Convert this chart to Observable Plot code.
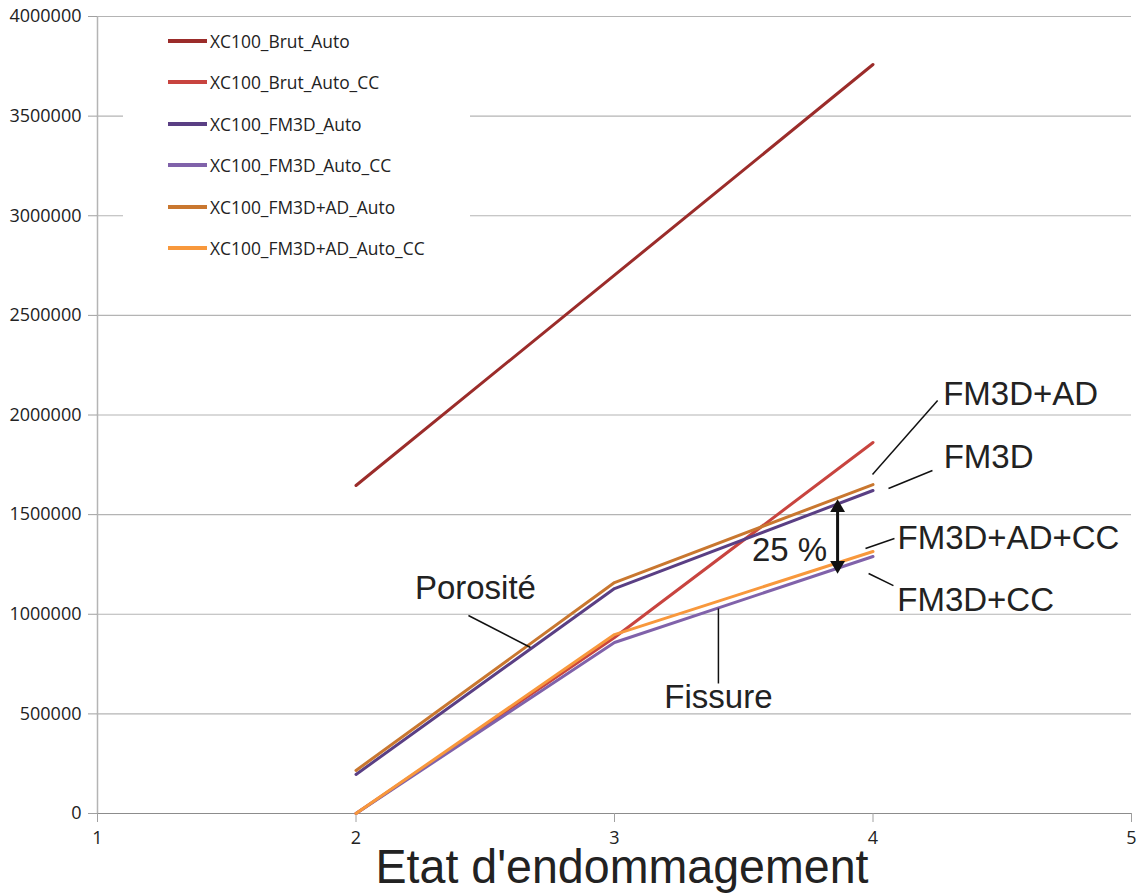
<!DOCTYPE html>
<html><head><meta charset="utf-8">
<script src="https://cdn.jsdelivr.net/npm/d3@7"></script>
<script src="https://cdn.jsdelivr.net/npm/@observablehq/plot@0.6"></script>
<style>
body{margin:0;background:#fff;}
#wrap{position:relative;width:1137px;height:893px;overflow:hidden;}
#legend{position:absolute;left:123px;top:22px;width:347px;height:248px;background:#fff;font-family:"Open Sans",sans-serif;font-size:17.4px;color:#222;}
.row{position:absolute;left:45px;height:22px;display:flex;align-items:center;white-space:nowrap;}
.sw{width:39px;height:3.5px;margin-right:3px;}
</style></head><body><div id="wrap"></div>
<script>
// ---- data ----
const etats = [2, 3, 4];
const seriesNames = ["XC100_Brut_Auto","XC100_Brut_Auto_CC","XC100_FM3D_Auto","XC100_FM3D_Auto_CC","XC100_FM3D+AD_Auto","XC100_FM3D+AD_Auto_CC"];
const seriesColors = ["#9b2c2a","#c8443f","#5a3f84","#8062aa","#c9772f","#f8983c"];
const brutAuto      = [1646000, 2702000, 3759000];
const brutAutoCC    = [0, 883000, 1862000];
const fm3dAuto      = [196000, 1129000, 1621000];
const fm3dAutoCC    = [0, 858000, 1290000];
const fm3dAdAuto    = [216000, 1159000, 1651000];
const fm3dAdAutoCC  = [0, 898000, 1315000];
const seriesValues = [brutAuto, brutAutoCC, fm3dAuto, fm3dAutoCC, fm3dAdAuto, fm3dAdAutoCC];
const xTicks = [1, 2, 3, 4, 5];
const yTicks = [0, 500000, 1000000, 1500000, 2000000, 2500000, 3000000, 3500000, 4000000];
const xTitle = "Etat d'endommagement";

// annotations (data coordinates)
const noteLabels = ["Porosité", "Fissure", "25 %", "FM3D+AD", "FM3D", "FM3D+AD+CC", "FM3D+CC"];
const noteX      = [2.462, 3.402, 3.677, 4.571, 4.447, 4.524, 4.397];
const noteY      = [1129000, 582000, 1320000, 2103000, 1787000, 1380000, 1069000];
const leaderX1 = [2.435, 3.402, 3.998, 4.060, 3.971, 3.983];
const leaderY1 = [993800, 1029000, 1701000, 1631000, 1330000, 1204500];
const leaderX2 = [2.675, 3.402, 4.250, 4.230, 4.083, 4.079];
const leaderY2 = [833000, 652500, 2073000, 1721500, 1380000, 1144000];
const arrowX = 3.863;
const arrowTop = 1571000;
const arrowBottom = 1209500;

// ---- build tables ----
const rows = [];
seriesNames.forEach((s, i) => etats.forEach((e, j) => rows.push({series: s, x: e, y: seriesValues[i][j]})));
const notes = noteLabels.map((t, i) => ({t, x: noteX[i], y: noteY[i]}));
const leaders = leaderX1.map((d, i) => ({x1: d, y1: leaderY1[i], x2: leaderX2[i], y2: leaderY2[i]}));
const yScalePerPx = 4000000 / 797;
const headOffset = 8 * yScalePerPx;

const chart = Plot.plot({
  width: 1137, height: 893,
  marginLeft: 97, marginRight: 6, marginTop: 16, marginBottom: 80,
  style: {background: "transparent", fontFamily: "'Open Sans', sans-serif", fontSize: "18px", color: "#222"},
  x: {domain: [1, 5], label: null},
  y: {domain: [0, 4000000], label: null},
  color: {domain: seriesNames, range: seriesColors},
  marks: [
    Plot.gridY(yTicks, {stroke: "#b4b4b4", strokeOpacity: 1, strokeWidth: 1.2}),
    Plot.ruleX([1], {stroke: "#b4b4b4", strokeWidth: 1.5}),
    Plot.ruleY([0], {stroke: "#8c8c8c", strokeWidth: 1.2}),
    Plot.axisY(yTicks, {tickSize: 9, tickPadding: 7, stroke: "#a0a0a0", fill: "#222", tickFormat: d => String(d), fontSize: 18}),
    Plot.axisX(xTicks, {tickSize: 9, tickPadding: 9, stroke: "#a0a0a0", fill: "#222", tickFormat: d => String(d), fontSize: 18}),
    Plot.line(rows, {x: "x", y: "y", z: "series", stroke: "series", strokeWidth: 3, curve: "linear"}),
    Plot.link(leaders, {x1: "x1", y1: "y1", x2: "x2", y2: "y2", stroke: "#111", strokeWidth: 1.5}),
    Plot.ruleX([arrowX], {y1: arrowTop - headOffset, y2: arrowBottom + headOffset, stroke: "#111", strokeWidth: 3}),
    Plot.dot([{x: arrowX, y: arrowTop - headOffset * 0.9}], {x: "x", y: "y", symbol: "triangle", r: 5.5, fill: "#111", stroke: "none"}),
    Plot.dot([{x: arrowX, y: arrowBottom + headOffset * 0.9}], {x: "x", y: "y", symbol: "triangle", r: 5.5, fill: "#111", stroke: "none", rotate: 180}),
    Plot.text(notes, {x: "x", y: "y", text: "t", fontSize: 33, fontFamily: "'Liberation Sans', Arial, sans-serif", fill: "#222"}),
    Plot.text([{t: xTitle, x: 3.029}], {x: "x", text: "t", frameAnchor: "bottom", lineAnchor: "middle", dy: 54, fontSize: 49, fontFamily: "'Liberation Sans', Arial, sans-serif", fill: "#222", className: "xtitle"})
  ]
});

const wrap = document.getElementById("wrap");
wrap.appendChild(chart);
d3.select(chart).selectAll(".xtitle text").attr("textLength", 493).attr("lengthAdjust", "spacingAndGlyphs");

// legend overlay
const legend = document.createElement("div");
legend.id = "legend";
const rowTops = [19, 60, 102, 143, 185, 226];
seriesNames.forEach((s, i) => {
  const r = document.createElement("div");
  r.className = "row";
  r.style.top = (rowTops[i] - 11) + "px";
  const sw = document.createElement("span");
  sw.className = "sw";
  sw.style.background = seriesColors[i];
  const t = document.createElement("span");
  t.textContent = s;
  r.appendChild(sw); r.appendChild(t);
  legend.appendChild(r);
});
wrap.appendChild(legend);
</script></body></html>
